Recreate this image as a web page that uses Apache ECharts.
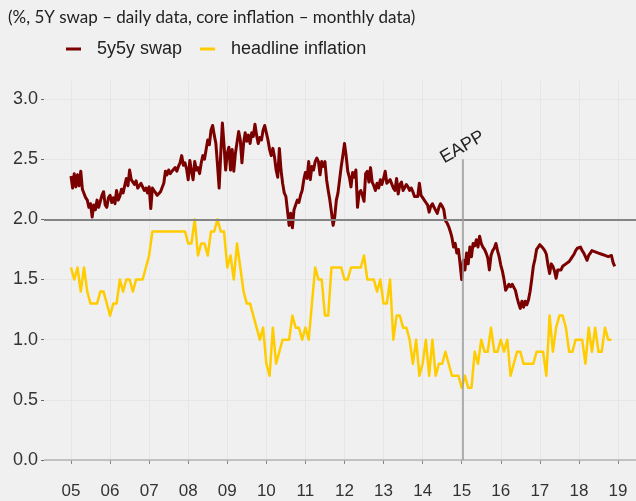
<!DOCTYPE html>
<html>
<head>
<meta charset="utf-8">
<script src="https://cdn.jsdelivr.net/npm/echarts@6/dist/echarts.min.js"></script>
<style>
  html, body { margin: 0; padding: 0; background: #f0f0f0; }
  #chart { width: 636px; height: 501px; }
</style>
</head>
<body>
<div id="chart"></div>
<script>
// Year ticks on the time axis (decimal years) and their short labels
const yearTicks = [2005, 2006, 2007, 2008, 2009, 2010, 2011, 2012, 2013, 2014, 2015, 2016, 2017, 2018, 2019];
const yearLabels = ['05', '06', '07', '08', '09', '10', '11', '12', '13', '14', '15', '16', '17', '18', '19'];
const valueTicks = [0, 0.5, 1, 1.5, 2, 2.5, 3];

// 5y5y swap, half-monthly observations starting January 2005 (%)
const swapStart = 2005;
const swapPerYear = 24;
const swapValues = [
  2.36, 2.26, 2.38, 2.27, 2.37, 2.28, 2.40, 2.25, 2.24, 2.18,
  2.16, 2.10, 2.13, 2.02, 2.12, 2.08, 2.16, 2.10, 2.15, 2.20,
  2.23, 2.12, 2.10, 2.18, 2.20, 2.14, 2.18, 2.13, 2.24, 2.16,
  2.19, 2.25, 2.22, 2.28, 2.34, 2.28, 2.41, 2.33, 2.31, 2.29,
  2.32, 2.26, 2.27, 2.30, 2.29, 2.24, 2.26, 2.22, 2.27, 2.09,
  2.26, 2.24, 2.22, 2.20, 2.19, 2.23, 2.24, 2.30, 2.40, 2.37,
  2.41, 2.38, 2.40, 2.39, 2.43, 2.40, 2.44, 2.47, 2.53, 2.45,
  2.47, 2.42, 2.33, 2.49, 2.40, 2.33, 2.48, 2.41, 2.43, 2.38,
  2.47, 2.53, 2.50, 2.58, 2.66, 2.62, 2.74, 2.78, 2.70, 2.63,
  2.45, 2.26, 2.55, 2.80, 2.62, 2.41, 2.55,
  2.60, 2.41, 2.58, 2.40, 2.55, 2.55, 2.73, 2.66, 2.47, 2.63,
  2.72, 2.65, 2.70, 2.63, 2.72, 2.69, 2.79, 2.70, 2.63, 2.68,
  2.66, 2.74, 2.78, 2.72, 2.66, 2.58, 2.53, 2.59, 2.52, 2.41,
  2.35, 2.59, 2.41, 2.30, 2.22, 2.19, 2.20, 1.95, 2.05, 1.93,
  2.08, 2.12, 2.16, 2.14, 2.20, 2.24, 2.33, 2.39, 2.34, 2.48,
  2.33, 2.44, 2.41, 2.48, 2.51, 2.48, 2.37, 2.48, 2.44, 2.48,
  2.33, 2.24, 2.16, 2.06, 1.95, 2.02, 2.16, 2.22, 2.33, 2.44,
  2.53, 2.63, 2.53, 2.40, 2.35, 2.27, 2.39, 2.35, 2.41, 2.10,
  2.22, 2.24, 2.20, 2.15, 2.38, 2.40, 2.31, 2.43, 2.31, 2.28,
  2.24, 2.30, 2.26, 2.33, 2.29, 2.34, 2.40, 2.30, 2.30, 2.33,
  2.33, 2.26, 2.24, 2.34, 2.21, 2.29, 2.31, 2.24, 2.24, 2.29,
  2.27, 2.24, 2.26, 2.23, 2.19, 2.20, 2.19, 2.30, 2.20, 2.18,
  2.16, 2.14, 2.12, 2.06,
  2.11, 2.13, 2.10, 2.09, 2.05, 2.10, 2.13, 2.11, 2.08, 1.99,
  1.97, 1.94, 1.90, 1.85, 1.77, 1.80, 1.72, 1.75, 1.63, 1.50,
  1.66, 1.58, 1.72, 1.63, 1.77, 1.69, 1.80, 1.78, 1.83, 1.77,
  1.86, 1.80, 1.77, 1.75, 1.72, 1.68, 1.58, 1.70, 1.74, 1.76,
  1.80, 1.74, 1.69, 1.62, 1.57, 1.50, 1.41, 1.42, 1.46, 1.44,
  1.46, 1.47, 1.41, 1.35, 1.30, 1.26, 1.32, 1.27, 1.32, 1.29,
  1.33, 1.40, 1.50, 1.61, 1.67, 1.75, 1.77, 1.79, 1.80, 1.76,
  1.74, 1.71, 1.62, 1.55, 1.63, 1.61, 1.57, 1.51, 1.58, 1.59,
  1.58, 1.61, 1.60, 1.63, 1.64, 1.65, 1.67, 1.69, 1.71, 1.74,
  1.76, 1.77, 1.77, 1.74, 1.72, 1.69, 1.66, 1.70, 1.72, 1.74,
  1.75, 1.73, 1.73, 1.72, 1.72, 1.71, 1.70, 1.70, 1.69, 1.69,
  1.68, 1.70, 1.64, 1.61
];

// Headline inflation, monthly from January 2005 (%)
const inflationStart = 2005;
const inflationPerYear = 12;
const inflationValues = [
  1.6, 1.5, 1.6, 1.4, 1.6, 1.4, 1.3, 1.3, 1.3, 1.4, 1.4, 1.3,
  1.2, 1.3, 1.3, 1.5, 1.4, 1.5, 1.5, 1.4, 1.5, 1.5, 1.5, 1.6,
  1.7, 1.9, 1.9, 1.9, 1.9, 1.9, 1.9, 1.9, 1.9, 1.9, 1.9, 1.9,
  1.8, 1.8, 2.0, 1.7, 1.8, 1.8, 1.7, 1.9, 1.9, 2.0, 1.9, 1.9,
  1.6, 1.7, 1.5, 1.8, 1.6, 1.4, 1.3, 1.3, 1.2, 1.1, 1.0, 1.1,
  0.8, 0.7, 1.1, 0.8, 0.9, 1.0, 1.0, 1.0, 1.2, 1.1, 1.1, 1.0,
  1.1, 1.0, 1.3, 1.6, 1.5, 1.5, 1.2, 1.2, 1.6, 1.6, 1.6, 1.6,
  1.5, 1.5, 1.6, 1.6, 1.6, 1.6, 1.7, 1.5, 1.5, 1.5, 1.4, 1.5,
  1.3, 1.3, 1.5, 1.0, 1.2, 1.2, 1.1, 1.1, 1.0, 0.8, 1.0, 0.7,
  0.8, 1.0, 0.7, 1.0, 0.7, 0.8, 0.8, 0.9, 0.8, 0.7, 0.7, 0.7,
  0.6, 0.7, 0.6, 0.6, 0.9, 0.8, 1.0, 0.9, 0.9, 1.1, 0.9, 0.9,
  1.0, 0.9, 1.0, 0.7, 0.8, 0.9, 0.9, 0.8, 0.8, 0.8, 0.8, 0.9,
  0.9, 0.9, 0.7, 1.2, 0.9, 1.1, 1.2, 1.2, 1.1, 0.9, 0.9, 1.0,
  1.0, 1.0, 0.8, 1.1, 0.9, 1.1, 0.9, 0.9, 1.1, 1.0, 1.0
];

// Reference levels and the EAPP announcement
const targetLevel = 2.0;
const eappDate = 2015.02;
const eappLineTop = 2.5;
const eappLabelLevel = 2.6;

const swapData = swapValues.map((v, i) => [swapStart + i / swapPerYear, v]);
const inflationData = inflationValues.map((v, i) => [inflationStart + i / inflationPerYear, v]);

const sansFont = "'Liberation Sans', Arial, sans-serif";

const chart = echarts.init(document.getElementById('chart'), null, { renderer: 'canvas' });

chart.setOption({
  animation: false,
  backgroundColor: '#f0f0f0',
  title: {
    text: '(%, 5Y swap \u2013 daily data, core inflation \u2013 monthly data)',
    left: 8,
    top: 9,
    padding: 0,
    textStyle: { fontFamily: 'Lato', fontSize: 17, fontWeight: 'normal', color: '#222' }
  },
  legend: {
    data: ['5y5y swap', 'headline inflation'],
    left: 66,
    top: 40,
    padding: 0,
    icon: 'rect',
    itemWidth: 15,
    itemHeight: 3,
    itemGap: 18,
    textStyle: { fontFamily: sansFont, fontSize: 18, color: '#222', padding: [0, 0, 0, 11] }
  },
  grid: { left: 44, right: 0, top: 81, bottom: 41 },
  xAxis: {
    type: 'value',
    min: 2004.309,
    max: 2019.461,
    offset: 17,
    axisLine: { show: false },
    axisTick: { show: true, length: 4, customValues: yearTicks, lineStyle: { color: '#888' } },
    axisLabel: {
      customValues: yearTicks,
      formatter: (v) => yearLabels[yearTicks.indexOf(Math.round(v))] || '',
      fontFamily: sansFont, fontSize: 17, color: '#333', margin: 6
    },
    splitLine: { show: true, lineStyle: { color: '#e6e6e6', width: 1 } }
  },
  yAxis: {
    type: 'value',
    min: 0,
    max: 3.15,
    interval: 0.5,
    axisLine: { show: false },
    axisTick: { show: true, length: 3, customValues: valueTicks, lineStyle: { color: '#666' } },
    axisLabel: {
      customValues: valueTicks,
      formatter: (v) => v.toFixed(1),
      fontFamily: sansFont, fontSize: 18, color: '#333', margin: 6
    },
    splitLine: { show: true, lineStyle: { color: '#e6e6e6', width: 1 } }
  },
  series: [
    {
      name: 'refs',
      type: 'line',
      data: [],
      z: 1,
      silent: true,
      markLine: {
        silent: true,
        symbol: ['none', 'none'],
        label: { show: false },
        data: [
          { yAxis: 0, lineStyle: { color: '#b4b4b4', width: 1.5, type: 'solid' } },
          { yAxis: targetLevel, lineStyle: { color: '#858585', width: 2, type: 'solid' } },
          [
            { coord: [eappDate, 0], lineStyle: { color: '#9a9a9a', width: 1.5, type: 'solid' } },
            { coord: [eappDate, eappLineTop] }
          ]
        ]
      },
      markPoint: {
        silent: true,
        symbol: 'circle',
        symbolSize: 0,
        data: [{ coord: [eappDate, eappLabelLevel], value: 'EAPP' }],
        label: {
          show: true,
          formatter: 'EAPP',
          position: 'inside',
          rotate: 30,
          align: 'center',
          verticalAlign: 'middle',
          fontFamily: sansFont,
          fontSize: 18,
          color: '#222'
        }
      }
    },
    {
      name: '5y5y swap',
      type: 'line',
      data: swapData,
      z: 3,
      showSymbol: false,
      symbol: 'none',
      color: '#7b0000',
      lineStyle: { color: '#7b0000', width: 3, join: 'round' }
    },
    {
      name: 'headline inflation',
      type: 'line',
      data: inflationData,
      z: 2,
      showSymbol: false,
      symbol: 'none',
      color: '#ffcc00',
      lineStyle: { color: '#ffcc00', width: 2.5, join: 'round' }
    }
  ]
});
</script>
</body>
</html>
